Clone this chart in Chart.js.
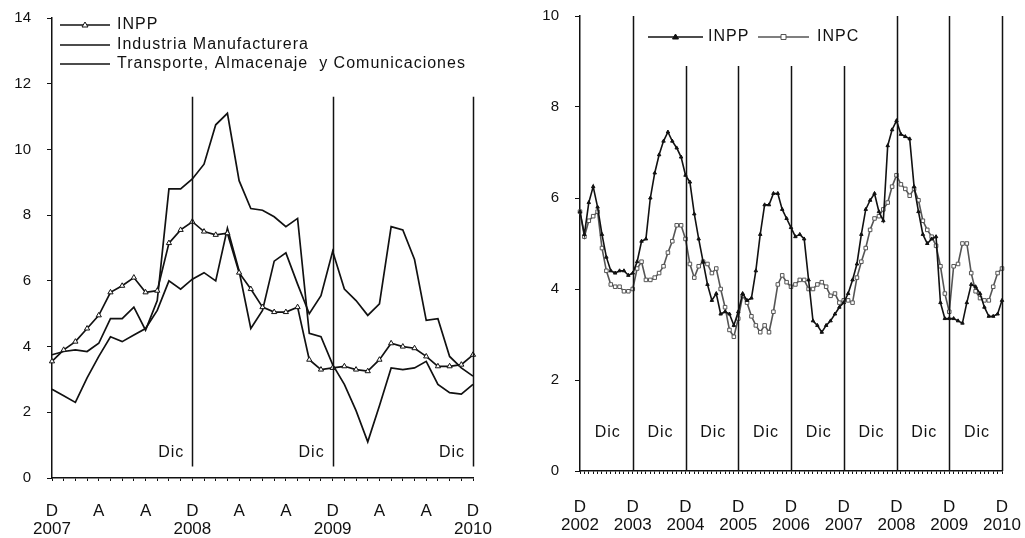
<!DOCTYPE html>
<html>
<head>
<meta charset="utf-8">
<script src="https://cdn.jsdelivr.net/npm/chart.js@4.4.1/dist/chart.umd.min.js"></script>
<style>
  body { margin: 0; background: #fff; width: 1025px; height: 538px; overflow: hidden; position: relative; }
  #left { position: absolute; left: 0; top: 0; }
  #right { position: absolute; left: 510px; top: 0; }
</style>
</head>
<body>
<canvas id="left" width="510" height="538"></canvas>
<canvas id="right" width="515" height="538"></canvas>
<script>
// left panel: monthly, Dic 2007 .. Dic 2010
const leftMonthTicks = ['D','','','','A','','','','A','','','',
                        'D','','','','A','','','','A','','','',
                        'D','','','','A','','','','A','','','',
                        'D'];
const leftYears = ['2007', '2008', '2009', '2010'];
const leftINPP = [3.55, 3.9, 4.15, 4.55, 4.95, 5.65, 5.85, 6.1, 5.65, 5.7, 7.15, 7.55,
                  7.8, 7.5, 7.4, 7.45, 6.25, 5.75, 5.2, 5.05, 5.05, 5.2, 3.6, 3.3,
                  3.35, 3.4, 3.3, 3.25, 3.6, 4.1, 4.0, 3.95, 3.7, 3.4, 3.4, 3.45,
                  3.75];
const leftManuf = [3.75, 3.85, 3.9, 3.85, 4.1, 4.85, 4.85, 5.2, 4.5, 5.4, 8.8, 8.8,
                   9.1, 9.55, 10.75, 11.1, 9.05, 8.2, 8.15, 7.95, 7.65, 7.9, 4.4, 4.3,
                   3.45, 2.85, 2.05, 1.1, 2.2, 3.35, 3.3, 3.35, 3.55, 2.85, 2.6, 2.55,
                   2.85];
const leftTransp = [2.7, 2.5, 2.3, 3.05, 3.7, 4.3, 4.15, 4.35, 4.55, 5.1, 6.0, 5.75,
                    6.05, 6.25, 6.0, 7.6, 6.3, 4.55, 5.1, 6.6, 6.85, 5.9, 5.0, 5.55,
                    6.9, 5.75, 5.4, 4.95, 5.3, 7.65, 7.55, 6.65, 4.8, 4.85, 3.7, 3.35,
                    3.1];

// right panel: monthly, Dic 2002 .. Dic 2010
const rightYears = ['2002', '2003', '2004', '2005', '2006', '2007', '2008', '2009', '2010'];
const rightINPP = [5.7, 5.2, 5.9, 6.25, 5.8, 5.2, 4.7, 4.4, 4.35, 4.4, 4.4, 4.3, 4.35,
                   4.6, 5.05, 5.1, 6.0, 6.55, 6.95, 7.25, 7.45, 7.25, 7.1, 6.9, 6.5,
                   6.35, 5.65, 5.1, 4.6, 4.1, 3.75, 3.9, 3.45, 3.5, 3.45, 3.2, 3.5,
                   3.9, 3.75, 3.8, 4.4, 5.2, 5.85, 5.85, 6.1, 6.1, 5.75, 5.55, 5.35,
                   5.15, 5.2, 5.1, 4.2, 3.3, 3.2, 3.05, 3.2, 3.3, 3.45, 3.6, 3.7,
                   3.9, 4.2, 4.55, 5.2, 5.75, 5.95, 6.1, 5.7, 5.5, 7.15, 7.5, 7.7,
                   7.4, 7.35, 7.3, 6.25, 5.7, 5.2, 5.0, 5.1, 5.15, 3.7, 3.35, 3.35,
                   3.35, 3.3, 3.25, 3.7, 4.1, 4.05, 3.9, 3.6, 3.4, 3.4, 3.45, 3.75];
const rightINPC = [5.7, 5.15, 5.5, 5.6, 5.7, 4.9, 4.4, 4.1, 4.05, 4.05, 3.95, 3.95, 4.0,
                   4.45, 4.6, 4.2, 4.2, 4.25, 4.35, 4.5, 4.8, 5.05, 5.4, 5.4, 5.1,
                   4.55, 4.25, 4.5, 4.6, 4.55, 4.35, 4.45, 4.0, 3.6, 3.1, 2.95, 3.35,
                   3.85, 3.7, 3.4, 3.2, 3.05, 3.2, 3.05, 3.5, 4.1, 4.3, 4.15, 4.05,
                   4.1, 4.2, 4.2, 4.0, 4.0, 4.1, 4.15, 4.05, 3.85, 3.9, 3.7, 3.75,
                   3.75, 3.7, 4.25, 4.6, 4.9, 5.3, 5.55, 5.6, 5.75, 5.9, 6.25, 6.5,
                   6.3, 6.2, 6.05, 6.2, 5.95, 5.5, 5.3, 5.15, 4.95, 4.5, 3.9, 3.5,
                   4.5, 4.55, 5.0, 5.0, 4.35, 3.95, 3.8, 3.75, 3.75, 4.05, 4.35, 4.45];

const INK = '#111';
const FONT = '"Liberation Sans", Arial, sans-serif';
Chart.defaults.font.family = FONT;
Chart.defaults.font.size = 15;
Chart.defaults.color = INK;

function monthLabels(startYear, n) {
  const out = [];
  for (let i = 0; i < n; i++) {
    const m = (11 + i) % 12, y = startYear + Math.floor((11 + i) / 12);
    out.push(y + '-' + String(m + 1).padStart(2, '0'));
  }
  return out;
}

// vertical december lines, "Dic" labels and a hand drawn legend
function overlay(opts) {
  return {
    id: 'overlay',
    afterDatasetsDraw(chart) {
      const { ctx, scales: { x, y } } = chart;
      ctx.save();
      ctx.strokeStyle = INK;
      ctx.lineWidth = 1.5;
      opts.lines.forEach(l => {
        const px = Math.round(x.getPixelForValue(l.at)) + 0.5;
        ctx.beginPath();
        ctx.moveTo(px, y.getPixelForValue(l.from));
        ctx.lineTo(px, y.getPixelForValue(l.to));
        ctx.stroke();
      });
      ctx.font = '16px ' + FONT;
      ctx.letterSpacing = '1px';
      ctx.fillStyle = INK;
      ctx.textBaseline = 'middle';
      opts.dic.forEach(d => {
        ctx.textAlign = d.align;
        ctx.fillText('Dic', x.getPixelForValue(d.at) + d.dx, y.getPixelForValue(d.v));
      });
      ctx.textAlign = 'left';
      opts.legend.forEach(e => {
        ctx.strokeStyle = e.color;
        ctx.lineWidth = 1.5;
        ctx.beginPath();
        ctx.moveTo(e.x0, e.y);
        ctx.lineTo(e.x1, e.y);
        ctx.stroke();
        if (e.marker) {
          const mx = (e.x0 + e.x1) / 2;
          ctx.fillStyle = e.marker.fill;
          ctx.strokeStyle = e.color;
          ctx.lineWidth = 1;
          ctx.beginPath();
          if (e.marker.shape === 'rect') {
            ctx.rect(mx - 2.5, e.y - 2.5, 5, 5);
          } else {
            ctx.moveTo(mx, e.y - 3);
            ctx.lineTo(mx + 3, e.y + 2);
            ctx.lineTo(mx - 3, e.y + 2);
            ctx.closePath();
          }
          ctx.fill();
          ctx.stroke();
        }
        ctx.fillStyle = INK;
        ctx.fillText(e.label, e.tx, e.y);
      });
      ctx.restore();
    }
  };
}

function axisY(max, width) {
  return {
    min: 0, max: max,
    ticks: { stepSize: 2, padding: 16, color: INK },
    grid: { drawOnChartArea: false, tickLength: 5, color: INK, lineWidth: 1 },
    border: { color: INK, width: 1.5 },
    afterFit(s) { s.width = width; s.paddingTop = 0; s.paddingBottom = 0; }
  };
}

function axisX(height, pad, cb) {
  return {
    type: 'category',
    offset: false,
    ticks: { autoSkip: false, maxRotation: 0, minRotation: 0, padding: pad, color: INK,
             font: { size: 17, lineHeight: 1.06 }, callback: cb },
    grid: { drawOnChartArea: false, tickLength: 3, color: INK, lineWidth: 1 },
    border: { color: INK, width: 1.5 },
    afterFit(s) { s.height = height; s.paddingLeft = 0; s.paddingRight = 0; }
  };
}

// ---- left chart
const leftLabels = monthLabels(2007, leftINPP.length);
new Chart(document.getElementById('left'), {
  type: 'line',
  data: {
    labels: leftLabels,
    datasets: [
      { label: 'INPP', data: leftINPP, borderColor: INK, borderWidth: 1.7,
        pointStyle: 'triangle', pointRadius: 3, pointBackgroundColor: '#fff',
        pointBorderColor: INK, pointBorderWidth: 1 },
      { label: 'Industria Manufacturera', data: leftManuf, borderColor: INK,
        borderWidth: 1.7, pointRadius: 0 },
      { label: 'Transporte, Almacenaje  y Comunicaciones', data: leftTransp,
        borderColor: INK, borderWidth: 1.7, pointRadius: 0 }
    ]
  },
  options: {
    responsive: false,
    animation: false,
    layout: { padding: { top: 18, right: 37, left: 0, bottom: 0 } },
    plugins: { legend: { display: false }, tooltip: { enabled: false } },
    elements: { line: { tension: 0 } },
    scales: {
      x: axisX(60, 21, (v, i) => {
        const t = leftMonthTicks[i];
        return t === 'D' ? ['D', leftYears[i / 12]] : t;
      }),
      y: axisY(14, 52)
    }
  },
  plugins: [overlay({
    lines: [12, 24, 36].map(i => ({ at: i, from: 0.35, to: 11.6 })),
    dic: [12, 24, 36].map(i => ({ at: i, v: 0.78, dx: -8, align: 'right' })),
    legend: [
      { label: 'INPP', x0: 60, x1: 110, y: 25, tx: 117, color: INK,
        marker: { shape: 'triangle', fill: '#fff' } },
      { label: 'Industria Manufacturera', x0: 60, x1: 110, y: 45, tx: 117, color: INK },
      { label: 'Transporte, Almacenaje  y Comunicaciones', x0: 60, x1: 110, y: 64, tx: 117, color: INK }
    ]
  })]
});

// ---- right chart
const rightLabels = monthLabels(2002, rightINPP.length);
new Chart(document.getElementById('right'), {
  type: 'line',
  data: {
    labels: rightLabels,
    datasets: [
      { label: 'INPP', data: rightINPP, borderColor: INK, borderWidth: 1.6,
        pointStyle: 'triangle', pointRadius: 2, pointBackgroundColor: INK,
        pointBorderColor: INK, pointBorderWidth: 1 },
      { label: 'INPC', data: rightINPC, borderColor: '#555', borderWidth: 1.6,
        pointStyle: 'rect', pointRadius: 2.5, pointBackgroundColor: '#fff',
        pointBorderColor: '#555', pointBorderWidth: 1 }
    ]
  },
  options: {
    responsive: false,
    animation: false,
    layout: { padding: { top: 16, right: 23, left: 0, bottom: 0 } },
    plugins: { legend: { display: false }, tooltip: { enabled: false } },
    elements: { line: { tension: 0 } },
    scales: {
      x: axisX(67, 24, (v, i) => (i % 12 === 0 ? ['D', rightYears[i / 12]] : '')),
      y: axisY(10, 70)
    }
  },
  plugins: [overlay({
    lines: [12, 24, 36, 48, 60, 72, 84, 96].map(i =>
      ({ at: i, from: 0, to: (i >= 24 && i <= 60) ? 8.9 : 10 })),
    dic: [0, 12, 24, 36, 48, 60, 72, 84].map(i => ({ at: i + 6.3, v: 0.85, dx: 0, align: 'center' })),
    legend: [
      { label: 'INPP', x0: 138, x1: 193, y: 37, tx: 198, color: INK,
        marker: { shape: 'triangle', fill: INK } },
      { label: 'INPC', x0: 248, x1: 299, y: 37, tx: 307, color: '#555',
        marker: { shape: 'rect', fill: '#fff' } }
    ]
  })]
});
</script>
</body>
</html>
